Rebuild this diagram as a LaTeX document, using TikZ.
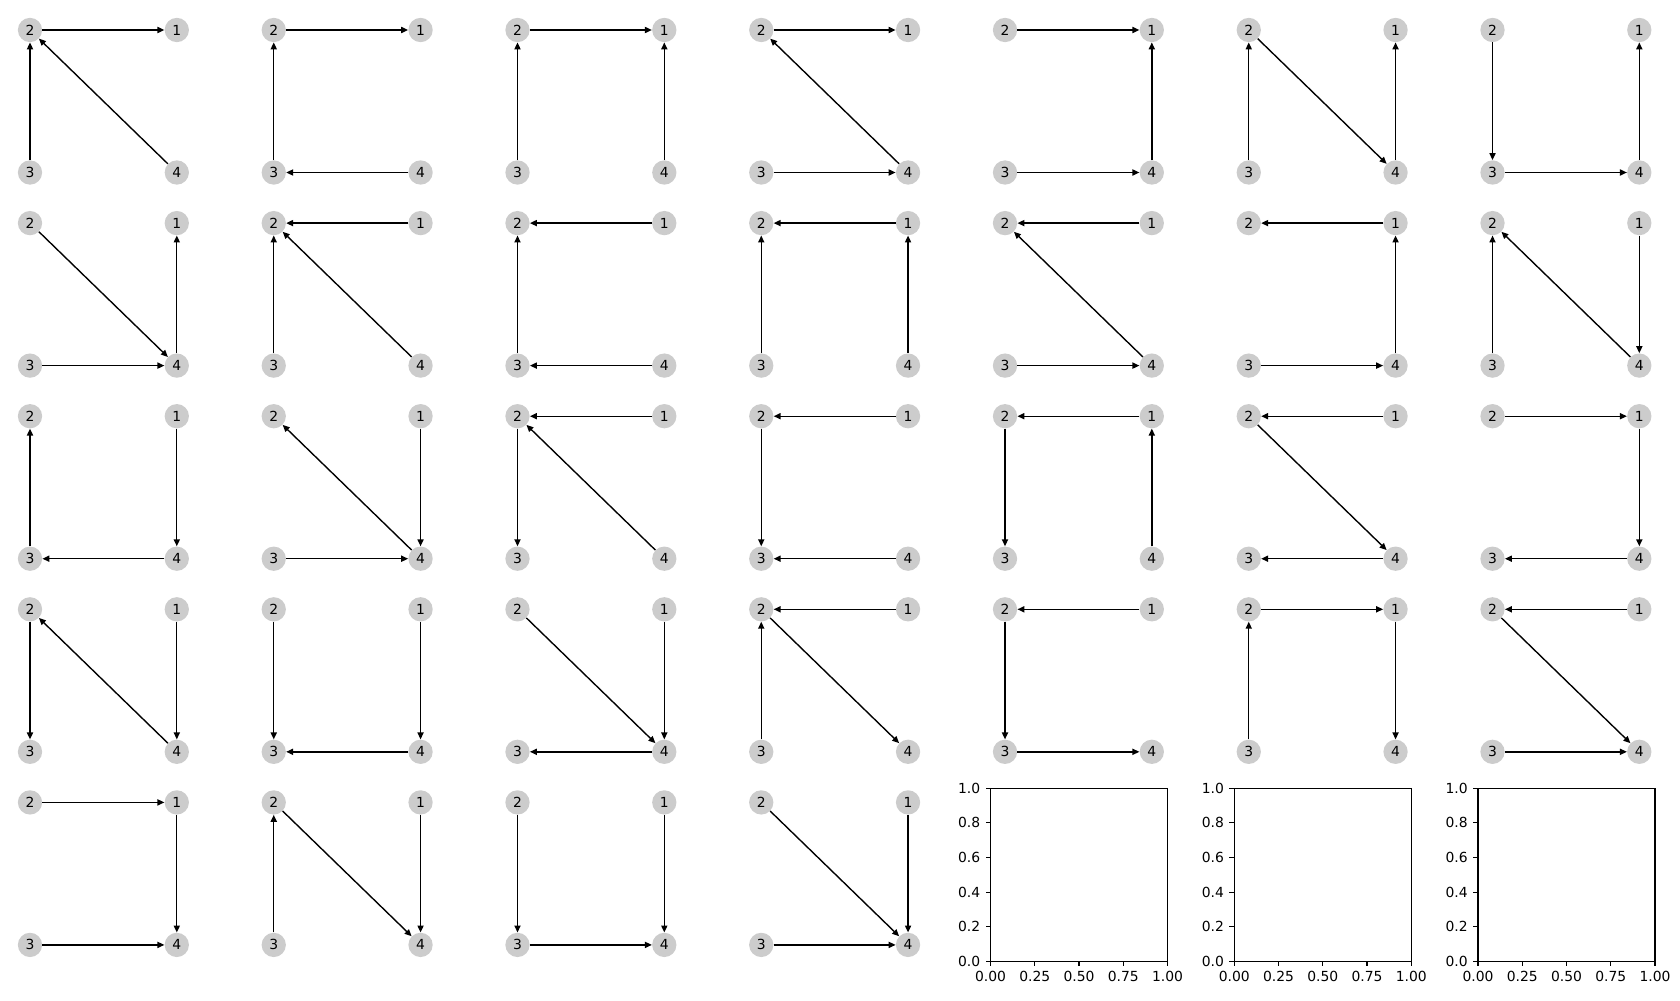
\documentclass[tikz,border=0pt]{standalone}
\usepackage{fontspec}
\setmainfont{DejaVu Sans}
\usepackage{xcolor}
\usetikzlibrary{arrows.meta}
\definecolor{nodegrayc}{HTML}{CCCCCC}
\tikzset{
  graphnode/.style={circle, fill=nodegrayc, inner sep=0pt, minimum size=17.5pt,
    font=\fontsize{10}{12}\selectfont},
  normaledge/.style={-{Triangle[length=5pt,width=4.4pt]}, draw=black, line width=1pt},
  axesline/.style={draw=black, line width=0.8pt},
  ticklabel/.style={inner sep=0pt, font=\fontsize{10}{12}\selectfont},
}
% one small graph: name, column, row, edge list
\newcommand{\drawpanel}[4]{%
  \begin{scope}[shift={(#2*243.75,#3*193.1)}]
    \node[graphnode] (#1-1) at (176.8,30) {1};
    \node[graphnode] (#1-2) at (30,30) {2};
    \node[graphnode] (#1-3) at (30,172.5) {3};
    \node[graphnode] (#1-4) at (176.8,172.5) {4};
    \foreach \a/\b in {#4} \draw[normaledge] (#1-\a) -- (#1-\b);
  \end{scope}}
% one unused subplot: name, column
\newcommand{\emptyaxes}[2]{%
  \begin{scope}[shift={(#2*243.75+15.5,4*193.1+15.9)}]
    \draw[axesline] (0,0) rectangle (177,173);
    \foreach \t/\lab [count=\i] in {0/0.00,0.25/0.25,0.5/0.50,0.75/0.75,1/1.00}
      \draw[axesline] (\t*177,173) -- ++(0,4.9)
        node[ticklabel, below=3.5pt] (#1-x\i) {\lab};
    \foreach \t/\lab [count=\i] in {0/0.0,0.2/0.2,0.4/0.4,0.6/0.6,0.8/0.8,1/1.0}
      \draw[axesline] (0,173-\t*173) -- ++(-4.9,0)
        node[ticklabel, left=3.5pt] (#1-y\i) {\lab};
  \end{scope}}

\begin{document}
\begin{tikzpicture}[x=0.72pt, y=-0.72pt]
  \useasboundingbox (0,0) rectangle (1680,1000);
  % row 1
  \drawpanel{p1}{0}{0}{2/1,3/2,4/2}
  \drawpanel{p2}{1}{0}{2/1,3/2,4/3}
  \drawpanel{p3}{2}{0}{2/1,3/2,4/1}
  \drawpanel{p4}{3}{0}{2/1,4/2,3/4}
  \drawpanel{p5}{4}{0}{2/1,4/1,3/4}
  \drawpanel{p6}{5}{0}{3/2,2/4,4/1}
  \drawpanel{p7}{6}{0}{2/3,4/1,3/4}
  % row 2
  \drawpanel{p8}{0}{1}{2/4,3/4,4/1}
  \drawpanel{p9}{1}{1}{1/2,3/2,4/2}
  \drawpanel{p10}{2}{1}{1/2,3/2,4/3}
  \drawpanel{p11}{3}{1}{1/2,3/2,4/1}
  \drawpanel{p12}{4}{1}{1/2,4/2,3/4}
  \drawpanel{p13}{5}{1}{1/2,4/1,3/4}
  \drawpanel{p14}{6}{1}{3/2,4/2,1/4}
  % row 3
  \drawpanel{p15}{0}{2}{3/2,1/4,4/3}
  \drawpanel{p16}{1}{2}{4/2,1/4,3/4}
  \drawpanel{p17}{2}{2}{1/2,2/3,4/2}
  \drawpanel{p18}{3}{2}{1/2,2/3,4/3}
  \drawpanel{p19}{4}{2}{1/2,2/3,4/1}
  \drawpanel{p20}{5}{2}{1/2,2/4,4/3}
  \drawpanel{p21}{6}{2}{2/1,1/4,4/3}
  % row 4
  \drawpanel{p22}{0}{3}{2/3,4/2,1/4}
  \drawpanel{p23}{1}{3}{2/3,1/4,4/3}
  \drawpanel{p24}{2}{3}{2/4,1/4,4/3}
  \drawpanel{p25}{3}{3}{1/2,3/2,2/4}
  \drawpanel{p26}{4}{3}{1/2,2/3,3/4}
  \drawpanel{p27}{5}{3}{3/2,2/1,1/4}
  \drawpanel{p28}{6}{3}{1/2,2/4,3/4}
  % row 5
  \drawpanel{p29}{0}{4}{2/1,1/4,3/4}
  \drawpanel{p30}{1}{4}{3/2,2/4,1/4}
  \drawpanel{p31}{2}{4}{2/3,1/4,3/4}
  \drawpanel{p32}{3}{4}{2/4,3/4,1/4}
  \emptyaxes{ax1}{4}
  \emptyaxes{ax2}{5}
  \emptyaxes{ax3}{6}
\end{tikzpicture}
\end{document}
